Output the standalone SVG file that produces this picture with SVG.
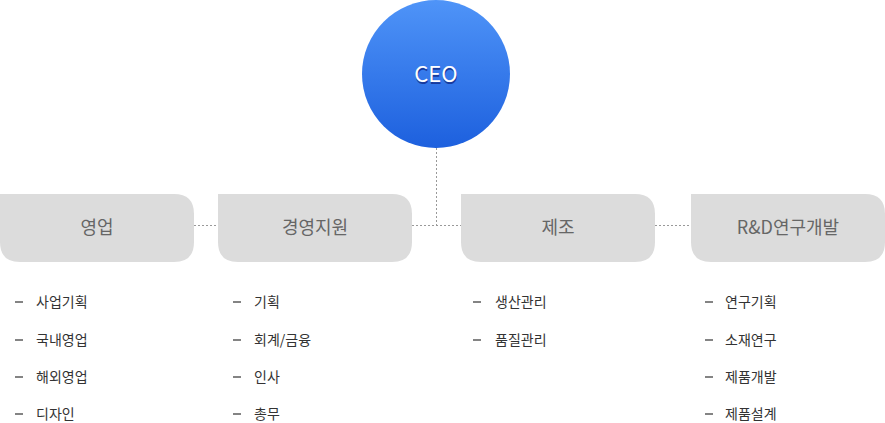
<svg xmlns="http://www.w3.org/2000/svg" width="885" height="423" viewBox="0 0 885 423">
<defs>
<linearGradient id="ceoGrad" x1="0" y1="0" x2="0" y2="1">
<stop offset="0" stop-color="#4f94f8"/>
<stop offset="1" stop-color="#1d60de"/>
</linearGradient>
<path id="box" d="M0,0 H174 Q194,0 194,20 V48 Q194,68 174,68 H20 Q0,68 0,48 Z"/>
</defs>
<style>
.dept{fill:#dcdcdc}
.dtxt{font-family:"Noto Sans CJK KR","Noto Sans",sans-serif;font-size:18px;fill:#666;text-anchor:middle}
.item{font-family:"Noto Sans CJK KR","Noto Sans",sans-serif;font-size:14px;fill:#333}
.dash{stroke:#333;stroke-width:1.2}
.conn{stroke:#999;stroke-width:1;stroke-dasharray:2 2;fill:none}
.ceo{font-family:"Noto Sans CJK KR","Noto Sans",sans-serif;font-size:22px;text-anchor:middle}
</style>
<g id="connectors">
<line class="conn" x1="436.5" y1="148" x2="436.5" y2="225.5"/>
<line class="conn" x1="194" y1="225.5" x2="218" y2="225.5"/>
<line class="conn" x1="412" y1="225.5" x2="461" y2="225.5"/>
<line class="conn" x1="655" y1="225.5" x2="691" y2="225.5"/>
</g>
<g id="ceo">
<circle cx="436" cy="74" r="74" fill="url(#ceoGrad)"/>
<text class="ceo" x="436.5" y="83.5" fill="#173a9c">CEO</text>
<text class="ceo" x="436" y="82" fill="#fff">CEO</text>
</g>
<g id="sales">
<use href="#box" class="dept" x="0" y="194"/>
<text class="dtxt" x="97" y="234">영업</text>
<line class="dash" x1="15" y1="302" x2="23" y2="302"/><text class="item" x="36" y="307">사업기획</text>
<line class="dash" x1="15" y1="340" x2="23" y2="340"/><text class="item" x="36" y="345">국내영업</text>
<line class="dash" x1="15" y1="377" x2="23" y2="377"/><text class="item" x="36" y="382">해외영업</text>
<line class="dash" x1="15" y1="414" x2="23" y2="414"/><text class="item" x="36" y="419">디자인</text>
</g>
<g id="management">
<use href="#box" class="dept" x="218" y="194"/>
<text class="dtxt" x="315" y="234">경영지원</text>
<line class="dash" x1="233" y1="302" x2="241" y2="302"/><text class="item" x="254" y="307">기획</text>
<line class="dash" x1="233" y1="340" x2="241" y2="340"/><text class="item" x="254" y="345">회계/금융</text>
<line class="dash" x1="233" y1="377" x2="241" y2="377"/><text class="item" x="254" y="382">인사</text>
<line class="dash" x1="233" y1="414" x2="241" y2="414"/><text class="item" x="254" y="419">총무</text>
</g>
<g id="manufacturing">
<use href="#box" class="dept" x="461" y="194"/>
<text class="dtxt" x="558" y="234">제조</text>
<line class="dash" x1="473" y1="302" x2="481" y2="302"/><text class="item" x="495" y="307">생산관리</text>
<line class="dash" x1="473" y1="340" x2="481" y2="340"/><text class="item" x="495" y="345">품질관리</text>
</g>
<g id="rnd">
<use href="#box" class="dept" x="691" y="194"/>
<text class="dtxt" x="788" y="234">R&amp;D연구개발</text>
<line class="dash" x1="705" y1="302" x2="713" y2="302"/><text class="item" x="725" y="307">연구기획</text>
<line class="dash" x1="705" y1="340" x2="713" y2="340"/><text class="item" x="725" y="345">소재연구</text>
<line class="dash" x1="705" y1="377" x2="713" y2="377"/><text class="item" x="725" y="382">제품개발</text>
<line class="dash" x1="705" y1="414" x2="713" y2="414"/><text class="item" x="725" y="419">제품설계</text>
</g>
</svg>
